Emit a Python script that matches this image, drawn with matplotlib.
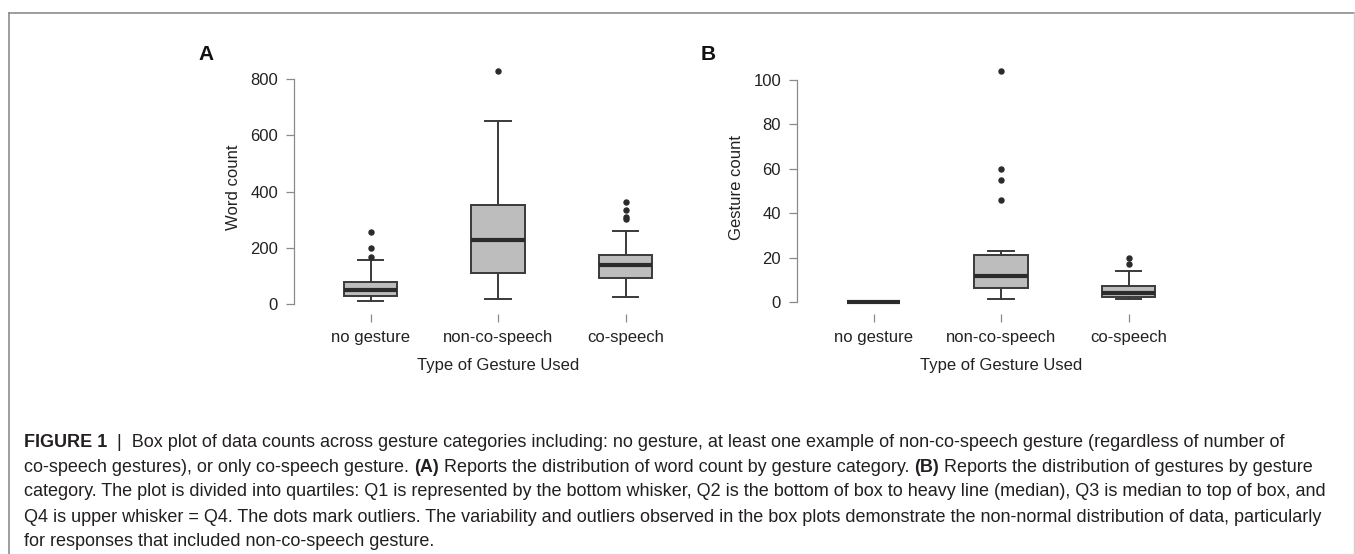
import matplotlib
matplotlib.use("Agg")
import matplotlib.pyplot as plt
from matplotlib.lines import Line2D

plt.rcParams['font.family'] = ['Liberation Sans', 'DejaVu Sans']

# categories on the x axis
categories = ["no gesture", "non-co-speech", "co-speech"]

# panel A: word count box stats
word_whislo = [10, 18, 25]
word_q1 = [27, 110, 91]
word_med = [48, 228, 138]
word_q3 = [80, 353, 175]
word_whishi = [157, 650, 258]
word_fliers = [[168, 199, 256], [830], [303, 308, 333, 361]]
word_ticks = [0, 200, 400, 600, 800]

# panel B: gesture count box stats
gest_whislo = [0, 1.2, 1.2]
gest_q1 = [0, 6.2, 2.1]
gest_med = [0, 11.6, 4.2]
gest_q3 = [0, 21.2, 7.0]
gest_whishi = [0, 23.1, 14.1]
gest_fliers = [[], [46, 55, 60, 104], [17, 20]]
gest_ticks = [0, 20, 40, 60, 80, 100]

# caption lines as (text, bold) segments
caption_lines = [
    [("FIGURE 1", True), ("  |  Box plot of data counts across gesture categories including: no gesture, at least one example of non-co-speech gesture (regardless of number of", False)],
    [("co-speech gestures), or only co-speech gesture. ", False), ("(A)", True), (" Reports the distribution of word count by gesture category. ", False), ("(B)", True), (" Reports the distribution of gestures by gesture", False)],
    [("category. The plot is divided into quartiles: Q1 is represented by the bottom whisker, Q2 is the bottom of box to heavy line (median), Q3 is median to top of box, and", False)],
    [("Q4 is upper whisker = Q4. The dots mark outliers. The variability and outliers observed in the box plots demonstrate the non-normal distribution of data, particularly", False)],
    [("for responses that included non-co-speech gesture.", False)],
]

W, H = 1355, 554
BOX_EDGE = '#3a3a3a'
AX_GRAY = '#8a8a8a'


def draw_panel(ax, whislo, q1, med, q3, whishi, fliers, ticks, ylim, ylabel, letter):
    stats = []
    for i, c in enumerate(categories):
        stats.append(dict(label=c, whislo=whislo[i], q1=q1[i], med=med[i],
                          q3=q3[i], whishi=whishi[i], fliers=fliers[i]))
    ax.bxp(stats, positions=[1, 2, 3], widths=0.42, capwidths=0.2,
           patch_artist=True,
           boxprops=dict(facecolor='#bdbdbd', edgecolor=BOX_EDGE, linewidth=1.4),
           medianprops=dict(color='#2b2b2b', linewidth=3),
           whiskerprops=dict(color=BOX_EDGE, linewidth=1.4),
           capprops=dict(color=BOX_EDGE, linewidth=1.4),
           flierprops=dict(marker='o', markerfacecolor='#2b2b2b',
                           markeredgecolor='#2b2b2b', markersize=3.6))
    ax.set_xlim(0.4, 3.6)
    ax.set_ylim(*ylim)
    ax.set_yticks(ticks)
    for s in ['top', 'right', 'bottom']:
        ax.spines[s].set_visible(False)
    ax.spines['left'].set_color(AX_GRAY)
    ax.spines['left'].set_linewidth(0.9)
    ax.spines['left'].set_bounds(ticks[0], ticks[-1])
    ax.spines['bottom'].set_position(('outward', 2))
    ax.tick_params(axis='y', length=6, width=0.9, color=AX_GRAY, labelsize=12,
                   pad=5.5, labelcolor='#222222')
    ax.tick_params(axis='x', length=6, width=0.9, color=AX_GRAY, labelsize=12,
                   pad=6, labelcolor='#222222')
    ax.set_ylabel(ylabel, fontsize=12, color='#222222')
    ax.yaxis.set_label_coords(-0.13, 0.5)
    ax.set_xlabel("Type of Gesture Used", fontsize=12, color='#222222')
    ax.xaxis.set_label_coords(0.5, -0.19)
    ax.patch.set_visible(False)
    pos = ax.get_position()
    ax.figure.text(pos.x0 - (294 - 198) / W, 1 - 55 / H, letter, fontsize=15,
                   fontweight='bold', va='center', ha='left', color='#111111')


fig = plt.figure(figsize=(W / 100, H / 100), dpi=100)
axA = fig.add_axes([294 / W, 1 - 311 / H, 408 / W, 248 / H])
axB = fig.add_axes([797 / W, 1 - 311 / H, 408 / W, 248 / H])

draw_panel(axA, word_whislo, word_q1, word_med, word_q3, word_whishi, word_fliers,
           word_ticks, (-24.9, 857), "Word count", "A")
draw_panel(axB, gest_whislo, gest_q1, gest_med, gest_q3, gest_whishi, gest_fliers,
           gest_ticks, (-4.05, 107.7), "Gesture count", "B")

# frame around the figure (left, top, right)
fig.add_artist(Line2D([9 / W, 9 / W], [0, 1 - 13 / H], transform=fig.transFigure,
                      color='#8c8c8c', linewidth=1.2))
fig.add_artist(Line2D([9 / W, 1354 / W], [1 - 13 / H, 1 - 13 / H],
                      transform=fig.transFigure, color='#8c8c8c', linewidth=1.2))
fig.add_artist(Line2D([1354 / W, 1354 / W], [0, 1 - 13 / H],
                      transform=fig.transFigure, color='#d0d0d0', linewidth=1.0))

# caption, drawn segment by segment so bold parts sit inline
renderer = fig.canvas.get_renderer()
baselines = [447, 471.5, 496.5, 521.5, 546]
for segs, yb in zip(caption_lines, baselines):
    x = 24
    for txt, bold in segs:
        t = fig.text(x / W, 1 - yb / H, txt, fontsize=13.0, va='baseline', ha='left',
                     color='#231f20', fontweight='bold' if bold else 'normal')
        x += t.get_window_extent(renderer).width

fig.savefig("out.png", dpi=100)
